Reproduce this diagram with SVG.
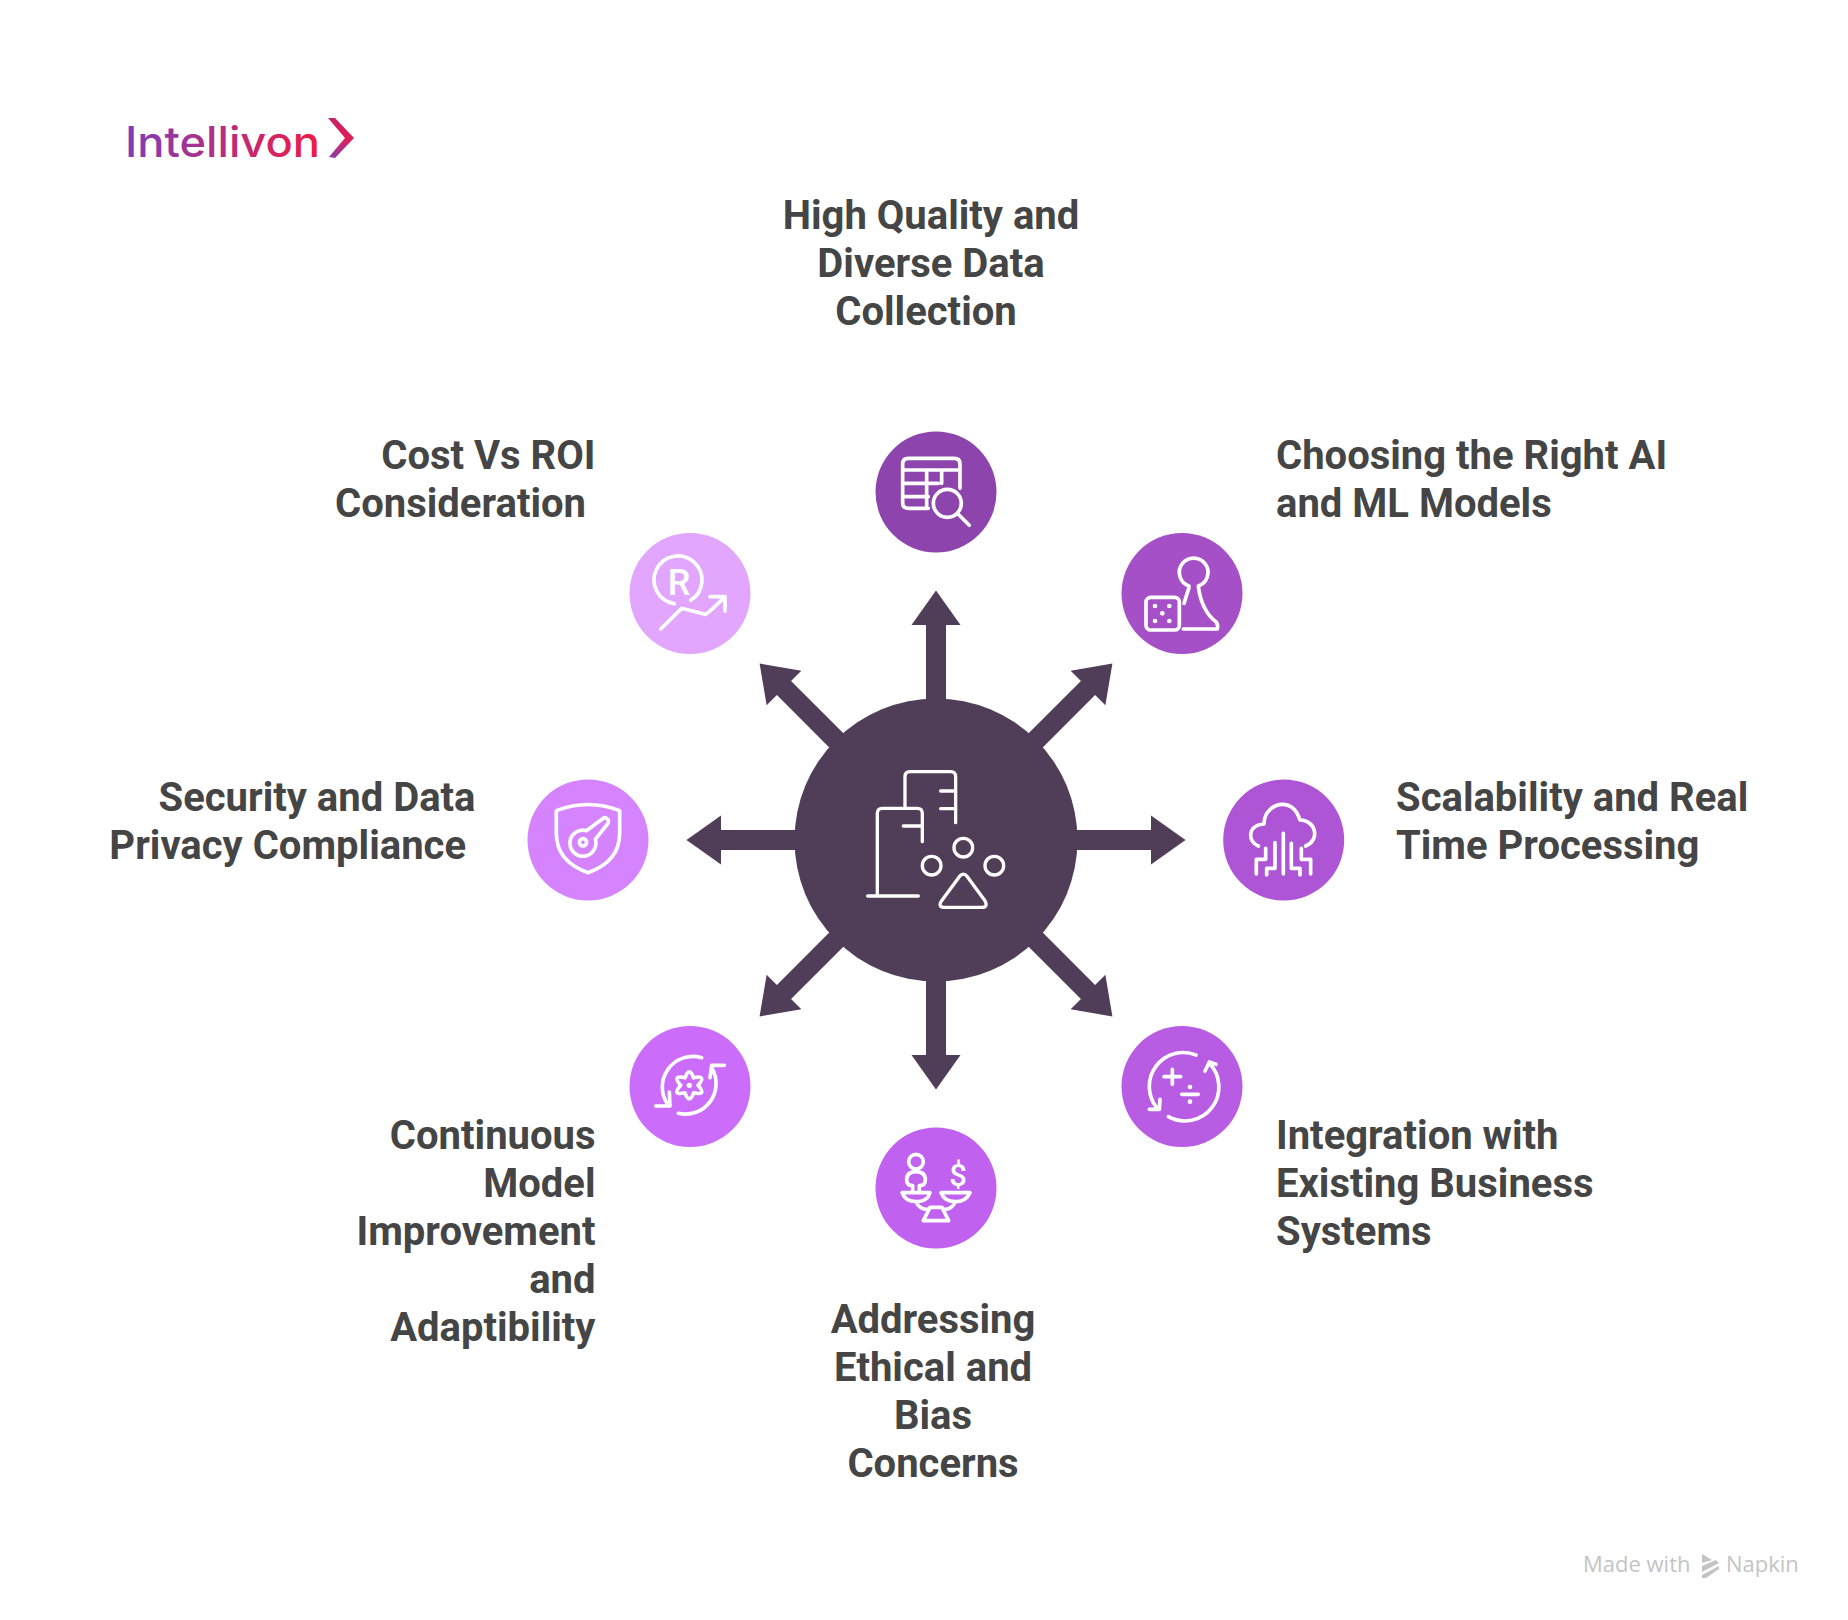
<svg xmlns="http://www.w3.org/2000/svg" width="1848" height="1620" viewBox="0 0 1848 1620">
<style>
.t{font-family:Roboto,"Liberation Sans",sans-serif;font-weight:700;font-size:40px;fill:#454545}
.e{text-anchor:end}.m{text-anchor:middle}
.ic{fill:none;stroke:#fff;stroke-width:11;stroke-linecap:round;stroke-linejoin:round}
.c{stroke-width:10}
.d{fill:#fff;stroke:none}
.g{font-family:"Open Sans","Liberation Sans",sans-serif;font-size:22px;fill:#c4c4c4}
.gl{font-family:Roboto,"Liberation Sans",sans-serif;font-weight:500;fill:#fff}
</style>
<defs>
<linearGradient id="lg" gradientUnits="userSpaceOnUse" x1="126" y1="0" x2="318" y2="0"><stop offset="0" stop-color="#7d3fb8"/><stop offset="1" stop-color="#ee1c46"/></linearGradient>
<linearGradient id="lc" x1="0" y1="0" x2="0" y2="1"><stop offset="0" stop-color="#c8206a"/><stop offset=".5" stop-color="#e01f55"/><stop offset="1" stop-color="#8a3bae"/></linearGradient>
<path id="arrow" d="M926 710V625H911.5L936 590.5L960.5 625H946V710Z" fill="#503d57"/>
</defs>
<rect width="1848" height="1620" fill="#fff"/>
<g id="logo">
<text x="125" y="157" font-family="Inter,'Liberation Sans',sans-serif" font-size="42" font-weight="500" textLength="195" lengthAdjust="spacingAndGlyphs" fill="url(#lg)">Intellivon</text>
<path d="M328 118L335 118L354 138L335 158L329 157L345 138Z" fill="url(#lc)"/>
</g>
<g id="connectors">
<use href="#arrow"/>
<use href="#arrow" transform="rotate(45 936 840)"/>
<use href="#arrow" transform="rotate(90 936 840)"/>
<use href="#arrow" transform="rotate(135 936 840)"/>
<use href="#arrow" transform="rotate(180 936 840)"/>
<use href="#arrow" transform="rotate(225 936 840)"/>
<use href="#arrow" transform="rotate(270 936 840)"/>
<use href="#arrow" transform="rotate(315 936 840)"/>
</g>
<g id="center">
<circle cx="936" cy="840" r="141.5" fill="#503d57"/>
<g class="ic c" transform="translate(780 680) scale(.3333)">
<path d="M375 380V290Q375 275 390 275H512Q527 275 527 290V428M482 333H527M482 386H527"/>
<path d="M292 645V400Q292 385 307 385H412Q427 385 427 400V485M370 438H427M263 648H415"/>
<circle cx="550" cy="503" r="28"/><circle cx="455" cy="557" r="28"/><circle cx="643" cy="557" r="28"/>
<path d="M538 590Q550 575 562 590L615 662Q625 682 605 682H495Q472 682 485 662Z"/>
</g>
</g>
<g id="node-data-collection">
<circle cx="936" cy="492" r="60.5" fill="#8e44ad"/>
<g class="ic" transform="translate(860 420) scale(.3333)">
<path d="M205 265H145Q128 265 128 248V132Q128 115 145 115H283Q300 115 300 132V205M128 150H300M128 190H235M128 230H205M200 150V262M245 150V190"/>
<circle cx="262" cy="250" r="42"/><path d="M295 283L328 316"/>
</g>
<text class="t m" x="931" y="229">High Quality and</text>
<text class="t m" x="931" y="277">Diverse Data</text>
<text class="t m" x="926" y="325">Collection</text>
</g>
<g id="node-models">
<circle cx="1182" cy="593.5" r="60.5" fill="#a550c6"/>
<g class="ic" transform="translate(1110 525) scale(.3333)">
<rect x="108" y="217" width="100" height="98" rx="14"/>
<circle class="d" cx="135" cy="243" r="7"/><circle class="d" cx="178" cy="243" r="7"/><circle class="d" cx="157" cy="265" r="7"/><circle class="d" cx="135" cy="288" r="7"/><circle class="d" cx="178" cy="288" r="7"/>
<path d="M237 188L222 235M237 183A43 43 0 1 1 265 183C270 230 290 270 318 290Q325 300 322 312H220"/>
</g>
<text class="t" x="1276" y="469">Choosing the Right AI</text>
<text class="t" x="1276" y="517">and ML Models</text>
</g>
<g id="node-scalability">
<circle cx="1283.7" cy="840" r="60.5" fill="#ae55d6"/>
<g class="ic" transform="translate(1214 770) scale(.3333)">
<path d="M133 228C100 215 100 165 150 162C150 125 180 103 205 103C235 103 250 125 258 150C305 150 320 210 275 228"/>
<path d="M208 190V312M155 235V268H127V312M183 218V295H158V315M232 220V295H258V315M262 235V268H290V312"/>
</g>
<text class="t" x="1396" y="811">Scalability and Real</text>
<text class="t" x="1396" y="859">Time Processing</text>
</g>
<g id="node-integration">
<circle cx="1182" cy="1086.5" r="60.5" fill="#b95ce4"/>
<g class="ic" transform="translate(1110 1016) scale(.3333)">
<path d="M258 117A102 102 0 0 0 140 275M118 280H148L150 250"/>
<path d="M175 302A102 102 0 0 0 298 142M285 165L298 138L318 145"/>
<path d="M162 182H212M187 160V205M215 235H265"/>
<circle class="d" cx="240" cy="213" r="7"/><circle class="d" cx="240" cy="257" r="7"/>
</g>
<text class="t" x="1276" y="1149">Integration with</text>
<text class="t" x="1276" y="1197">Existing Business</text>
<text class="t" x="1276" y="1245">Systems</text>
</g>
<g id="node-ethics">
<circle cx="936" cy="1188" r="60.5" fill="#c061f0"/>
<g class="ic" transform="translate(866 1120) scale(.3333)">
<circle cx="150" cy="125" r="22"/>
<path d="M140 212V197Q122 197 122 180Q122 155 150 155Q178 155 178 180Q178 197 160 197V212"/>
<path d="M108 218H192Q185 245 150 245Q118 245 108 218ZM225 218H312Q300 245 268 245Q235 245 225 218ZM150 245Q160 268 185 268M268 245Q258 268 235 268M192 262H228L248 302H172Z"/>
</g>
<text class="gl" x="958" y="1186" font-size="31" text-anchor="middle">$</text>
<text class="t m" x="933" y="1333">Addressing</text>
<text class="t m" x="933" y="1381">Ethical and</text>
<text class="t m" x="933" y="1429">Bias</text>
<text class="t m" x="933" y="1477">Concerns</text>
</g>
<g id="node-improvement">
<circle cx="690" cy="1086.5" r="60.5" fill="#cb6cfb"/>
<g class="ic" transform="translate(620 1016) scale(.3333)">
<path d="M245 125A92 92 0 0 0 145 268M107 270H150L148 228"/>
<path d="M175 292A92 92 0 0 0 275 155M313 148H275L270 185"/>
<path d="M195 185.5Q208 150 221 185.5Q262 176 234 208Q262 240 221 230.5Q208 266 195 230.5Q154 240 182 208Q154 176 195 185.5Z"/>
<circle class="d" cx="208" cy="208" r="8"/>
</g>
<text class="t e" x="595.5" y="1149">Continuous</text>
<text class="t e" x="595.5" y="1197">Model</text>
<text class="t e" x="595.5" y="1245">Improvement</text>
<text class="t e" x="595.5" y="1293">and</text>
<text class="t e" x="595.5" y="1341">Adaptibility</text>
</g>
<g id="node-security">
<circle cx="588" cy="840" r="60.5" fill="#d583ff"/>
<g class="ic" transform="translate(518 770) scale(.3333)">
<path d="M115 122Q210 85 305 122V190Q305 275 210 308Q115 275 115 190Z"/>
<path d="M205 182A39 39 0 1 0 232 208L270 160Q275 145 258 143Z"/>
<circle cx="195" cy="217" r="11"/>
</g>
<text class="t e" x="475.5" y="811">Security and Data</text>
<text class="t e" x="466" y="859">Privacy Compliance</text>
</g>
<g id="node-cost">
<circle cx="690" cy="593.5" r="60.5" fill="#e2a6ff"/>
<g class="ic" transform="translate(620 525) scale(.3333)">
<path d="M163 236A72 72 0 1 1 212 226"/>
<path d="M122 312L185 250L255 268Q262 268 315 215M270 215H315V258"/>
</g>
<text class="gl" x="679" y="594.5" font-size="36" text-anchor="middle">R</text>
<text class="t e" x="595.5" y="469">Cost Vs ROI</text>
<text class="t e" x="586" y="517">Consideration</text>
</g>
<g id="footer">
<text class="g" x="1583" y="1572">Made with</text>
<text class="g" x="1726" y="1572">Napkin</text>
<path d="M1702 1554L1712 1560L1702 1563ZM1702 1566L1716 1560L1719 1563L1702 1572ZM1702 1575L1719 1566V1569L1706 1578H1702Z" fill="#c4c4c4"/>
</g>
</svg>
